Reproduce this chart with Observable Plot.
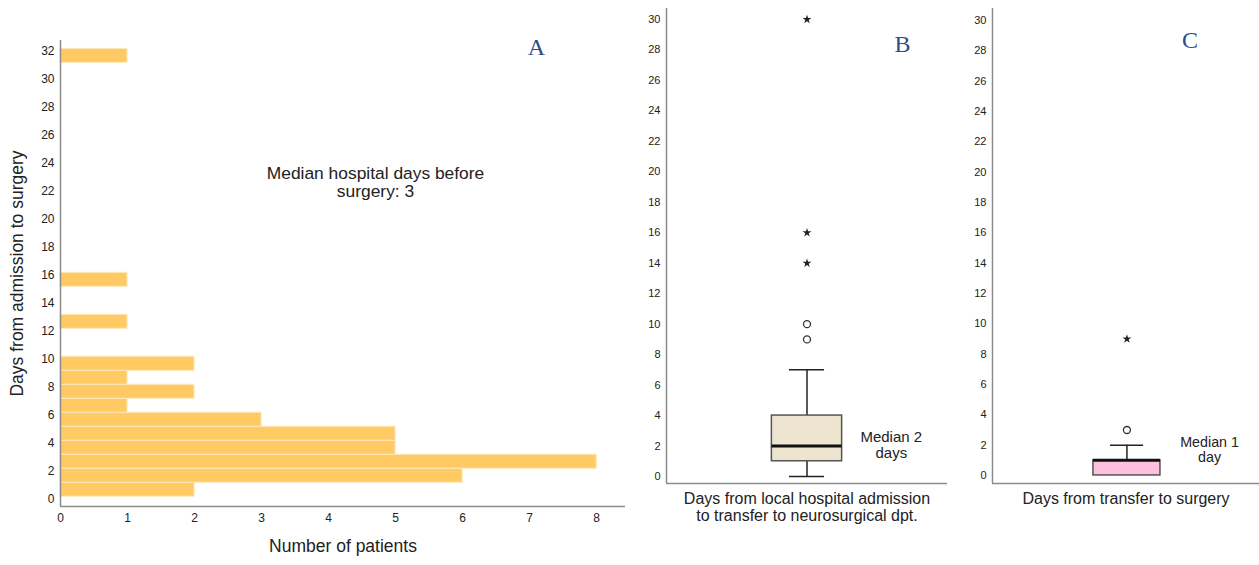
<!DOCTYPE html>
<html>
<head>
<meta charset="utf-8">
<script src="https://cdn.jsdelivr.net/npm/d3@7"></script>
<script src="https://cdn.jsdelivr.net/npm/@observablehq/plot@0.6"></script>
<style>
  body { margin: 0; background: #fff; }
  #wrap { position: relative; width: 1259px; height: 565px; overflow: hidden; background: #fff; }
  #wrap svg { position: absolute; top: 0; }
</style>
</head>
<body>
<div id="wrap"></div>
<script>
// Panel A: histogram of days from admission to surgery
const days = [0, 1, 2, 3, 4, 5, 6, 7, 8, 9, 12, 15, 31];
const patients = [2, 6, 8, 5, 5, 3, 1, 2, 1, 2, 1, 1, 1];
const yTicksA = [0, 2, 4, 6, 8, 10, 12, 14, 16, 18, 20, 22, 24, 26, 28, 30, 32];
const xTicksA = [0, 1, 2, 3, 4, 5, 6, 7, 8];
const medianNoteA = "Median hospital days before\nsurgery: 3";

// Panel B: local admission → transfer (min, q1, median, q3, upper whisker)
const transferStats = [0, 1, 2, 4, 7];
const transferOutliers = [9, 10];
const transferExtremes = [14, 16, 30];
const transferNote = "Median 2\ndays";
const transferTitle = "Days from local hospital admission\nto transfer to neurosurgical dpt.";

// Panel C: transfer → surgery
const surgeryStats = [0, 0, 1, 1, 2];
const surgeryOutliers = [3];
const surgeryExtremes = [9];
const surgeryNote = "Median 1\nday";
const surgeryTitle = "Days from transfer to surgery";

const yTicksBox = [0, 2, 4, 6, 8, 10, 12, 14, 16, 18, 20, 22, 24, 26, 28, 30];

const FONT = '"Liberation Sans", Arial, sans-serif';
const SERIF = '"Liberation Serif", "DejaVu Serif", serif';
const AXIS = "#8c8c8c";
const INK = "#222";
const LETTER = "#2B4E8C";

const wrap = document.getElementById("wrap");

const barData = days.map((d, i) => ({day: d, n: patients[i]}));

const histogram = Plot.plot({
  width: 640, height: 565,
  marginLeft: 60, marginRight: 15, marginTop: 40, marginBottom: 59,
  x: {domain: [0, 8.43]},
  y: {domain: [-0.7, 32.6]},
  style: {fontFamily: FONT, fontSize: "12px", color: INK, background: "transparent"},
  marks: [
    Plot.rect(barData, {
      x1: d => 0, x2: "n", y1: "day", y2: d => d.day + 1,
      fill: "#FFCA64", stroke: "#FFE8B8", strokeWidth: 1
    }),
    Plot.ruleX([0], {stroke: AXIS, strokeWidth: 1.5}),
    Plot.ruleY([-0.7], {stroke: AXIS, strokeWidth: 1.5}),
    Plot.axisY({ticks: yTicksA, tickSize: 0, tickPadding: 6, dy: 2, label: null}),
    Plot.axisX({ticks: xTicksA, tickSize: 0, tickPadding: 7, label: null}),
    Plot.text(["Days from admission to surgery"], {
      frameAnchor: "left", textAnchor: "middle", rotate: -90, dx: -43, fontSize: 17.5, fill: INK
    }),
    Plot.text(["Number of patients"], {frameAnchor: "bottom", dy: 45, fontSize: 17.5, fill: INK}),
    Plot.text([medianNoteA], {x: () => 4.7, y: () => 22.45, fontSize: 17.4, fill: INK, lineHeight: 1.03}),
    Plot.text(["A"], {x: () => 7.1, y: () => 32.1, fontSize: 24, fontFamily: SERIF, fill: LETTER})
  ]
});
histogram.style.left = "0px";
wrap.appendChild(histogram);

function boxPanel({stats, outliers, extremes, note, noteSize, title, titleSize, titleDy, fill, letter,
                   width, marginLeft, marginRight, yDomain, box, cap, noteX, noteY, letterX, letterY}) {
  const [lo, q1, med, q3, hi] = stats;
  const c = (box[0] + box[1]) / 2;
  const marks = [
    Plot.ruleX([0], {stroke: AXIS, strokeWidth: 1.5}),
    Plot.ruleY([yDomain[0]], {stroke: AXIS, strokeWidth: 1.5}),
    Plot.axisY({ticks: yTicksBox, tickSize: 0, tickPadding: 6, label: null})
  ];
  // whiskers
  const whiskers = [];
  if (q1 > lo) whiskers.push({a: lo, b: q1});
  if (hi > q3) whiskers.push({a: q3, b: hi});
  marks.push(Plot.ruleX(whiskers, {x: () => c, y1: "a", y2: "b", stroke: INK, strokeWidth: 1.5}));
  const caps = [lo, hi].filter((v, i) => (i === 0 ? q1 > lo : hi > q3));
  marks.push(Plot.ruleY(caps, {y: d => d, x1: () => cap[0], x2: () => cap[1], stroke: INK, strokeWidth: 1.5}));
  // box and median
  marks.push(Plot.rect([{q1, q3}], {
    x1: () => box[0], x2: () => box[1], y1: "q1", y2: "q3",
    fill, stroke: "#555", strokeWidth: 1.5
  }));
  marks.push(Plot.ruleY([med], {y: d => d, x1: () => box[0], x2: () => box[1], stroke: "#111", strokeWidth: 3}));
  // outliers and extremes
  marks.push(Plot.dot(outliers, {x: () => c, y: d => d, r: 3.5, fill: "white", stroke: "#333", strokeWidth: 1.3}));
  marks.push(Plot.dot(extremes, {x: () => c, y: d => d, r: 2.8, symbol: "star", fill: INK, stroke: "none"}));
  // notes
  marks.push(Plot.text([note], {x: () => noteX, y: () => noteY, fontSize: noteSize, fill: INK, lineHeight: 1.1}));
  marks.push(Plot.text([title], {frameAnchor: "bottom", lineAnchor: "top", dy: titleDy, fontSize: titleSize, fill: INK, lineHeight: 1.05}));
  marks.push(Plot.text([letter], {x: () => letterX, y: () => letterY, fontSize: 24, fontFamily: SERIF, fill: LETTER}));
  return Plot.plot({
    width, height: 565,
    marginLeft, marginRight, marginTop: 8, marginBottom: 565 - 483,
    x: {domain: [0, 1], axis: null},
    y: {domain: yDomain, axis: null},
    style: {fontFamily: FONT, fontSize: "11px", color: INK, background: "transparent"},
    marks
  });
}

const panelB = boxPanel({
  stats: transferStats, outliers: transferOutliers, extremes: transferExtremes,
  note: transferNote, noteSize: 15, title: transferTitle, titleSize: 16, titleDy: 9, fill: "#ECE4CF", letter: "B",
  width: 340, marginLeft: 46, marginRight: 13, yDomain: [-0.46, 30.72],
  box: [0.375, 0.625], cap: [0.4375, 0.5625], noteX: 0.80, noteY: 2.07, letterX: 0.84, letterY: 28.4
});
panelB.style.left = "620px";
wrap.appendChild(panelB);

const panelC = boxPanel({
  stats: surgeryStats, outliers: surgeryOutliers, extremes: surgeryExtremes,
  note: surgeryNote, noteSize: 14.3, title: surgeryTitle, titleSize: 16, titleDy: 9, fill: "#FFC0E0", letter: "C",
  width: 309, marginLeft: 42, marginRight: 0, yDomain: [-0.53, 30.8],
  box: [0.378, 0.629], cap: [0.442, 0.566], noteX: 0.813, noteY: 1.72, letterX: 0.74, letterY: 28.7
});
panelC.style.left = "950px";
wrap.appendChild(panelC);
</script>
</body>
</html>
